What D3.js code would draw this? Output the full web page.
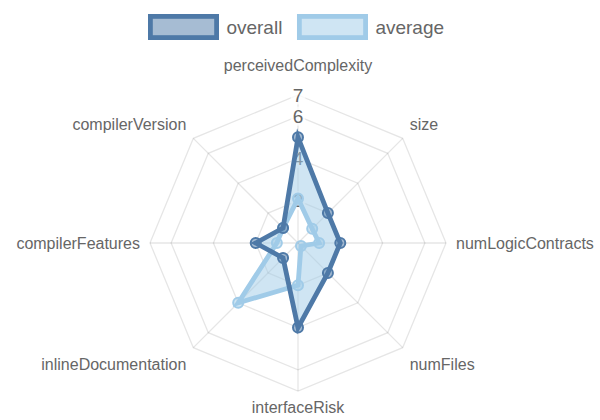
<!DOCTYPE html>
<html><head><meta charset="utf-8">
<script src="https://cdn.jsdelivr.net/npm/d3@7"></script>
<style>body{margin:0;background:#fff}svg{display:block}</style>
</head><body><svg id="c" width="600" height="420"></svg>
<script>
const categories = ["perceivedComplexity","size","numLogicContracts","numFiles","interfaceRisk","inlineDocumentation","compilerFeatures","compilerVersion"];
const overallValues = [5, 2, 2, 2, 4, 1, 2, 1];
const averageValues = [2.1, 0.95, 1, 0.2, 2, 4, 1, 1];
const seriesNames = ["overall", "average"];
const tickValues = [2, 4, 6, 7];
const scaleMax = 7;

const FONT = '"Liberation Sans", Arial, Helvetica, sans-serif';
const lineColors = ["#4e79a7", "#a0cbe8"];
const fillColors = ["rgba(78,121,167,0.5)", "rgba(160,203,232,0.5)"];

const svg = d3.select("#c");
const cx = 298, cy = 243, R = 148;
const rScale = d3.scaleLinear().domain([0, scaleMax]).range([0, R]);
const aScale = d3.scaleLinear().domain([0, categories.length]).range([0, 2 * Math.PI]);

const g = svg.append("g").attr("transform", `translate(${cx},${cy})`);
const radial = d3.lineRadial().angle((d, i) => aScale(i)).radius(d => rScale(d)).curve(d3.curveLinearClosed);

// grid rings
tickValues.forEach(t => {
  g.append("path").attr("d", radial(categories.map(() => t)))
    .attr("fill", "none").attr("stroke", "rgba(0,0,0,0.1)").attr("stroke-width", 1.3);
});
// angle lines
categories.forEach((c, i) => {
  const a = aScale(i);
  g.append("line").attr("x1", 0).attr("y1", 0)
    .attr("x2", rScale(scaleMax) * Math.sin(a)).attr("y2", -rScale(scaleMax) * Math.cos(a))
    .attr("stroke", "rgba(0,0,0,0.1)").attr("stroke-width", 1.3);
});
// tick labels
tickValues.forEach(t => {
  const tg = g.append("g");
  const txt = tg.append("text").attr("x", 0).attr("y", -rScale(t))
    .attr("text-anchor", "middle").attr("dominant-baseline", "central")
    .attr("font-family", FONT).attr("font-size", 19).attr("fill", "#666").text(t);
  const bb = txt.node().getBBox();
  tg.insert("rect", "text").attr("x", bb.x - 2).attr("y", bb.y + 1).attr("width", bb.width + 4).attr("height", bb.height - 2)
    .attr("fill", "rgba(255,255,255,0.75)");
});
// point labels
categories.forEach((c, i) => {
  const a = aScale(i);
  const LR = R + 10;
  const s = Math.sin(a), co = Math.cos(a);
  const x = LR * s, y = -LR * co;
  let dy = 0;
  if (co > 0.9) dy = -20; else if (co > 0.1) dy = -7; else if (co < -0.9) dy = 6; else if (co < -0.1) dy = 10;
  const anchor = Math.abs(s) < 0.1 ? "middle" : (s > 0 ? "start" : "end");
  g.append("text").attr("x", x).attr("y", y + dy).attr("text-anchor", anchor)
    .attr("dominant-baseline", "central").attr("font-family", FONT).attr("font-size", 16)
    .attr("fill", "#666").text(c);
});

// fill between the two series (average filled to overall)
g.append("path").attr("d", radial(overallValues) + radial(averageValues))
  .attr("fill", fillColors[1]).attr("fill-rule", "evenodd");

const series = [overallValues, averageValues];
[1, 0].forEach(k => {
  g.append("path").attr("d", radial(series[k])).attr("fill", "none")
    .attr("stroke", lineColors[k]).attr("stroke-width", 4.8).attr("stroke-linejoin", "miter");
  g.selectAll(null).data(series[k]).enter().append("circle")
    .attr("cx", (d, i) => rScale(d) * Math.sin(aScale(i)))
    .attr("cy", (d, i) => -rScale(d) * Math.cos(aScale(i)))
    .attr("r", 5).attr("fill", fillColors[k]).attr("stroke", lineColors[k]).attr("stroke-width", 2);
});

// legend
const lg = svg.append("g");
let lx = 150.4;
seriesNames.forEach((n, k) => {
  lg.append("rect").attr("x", lx).attr("y", 16.4).attr("width", 66.2).attr("height", 21.2)
    .attr("fill", fillColors[k]).attr("stroke", lineColors[k]).attr("stroke-width", 4.8);
  const t = lg.append("text").attr("x", lx + 76).attr("y", 27.5).attr("dominant-baseline", "central")
    .attr("font-family", FONT).attr("font-size", 19).attr("fill", "#666").text(n);
  lx += 76 + t.node().getComputedTextLength() + 17;
});
</script></body></html>
